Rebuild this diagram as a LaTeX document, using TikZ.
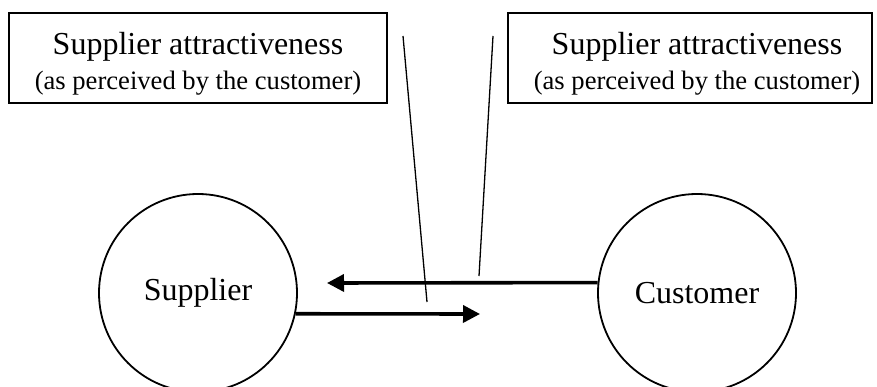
\documentclass[tikz,border=0pt]{standalone}
\usepackage{fontspec}
\setmainfont{Liberation Serif}
\usetikzlibrary{arrows.meta}
\begin{document}
\begin{tikzpicture}[x=1pt,y=-1pt,
  party/.style={circle,draw,line width=1.8pt,minimum size=198pt,inner sep=0pt,
    font=\fontsize{32}{38}\selectfont},
  box/.style={draw,line width=1.6pt,inner sep=0pt},
  titletext/.style={anchor=base,inner sep=0pt,font=\fontsize{32}{38}\selectfont},
  subtext/.style={anchor=base,inner sep=0pt,font=\fontsize{26.6}{32}\selectfont},
  flow/.style={line width=3.6pt,-{Triangle[length=17pt,width=17pt]}},
  thin/.style={line width=1.3pt}]
\useasboundingbox (0,0) rectangle (877,387);
% boxes
\node[box,minimum width=378pt,minimum height=90pt] (boxL) at (198,58) {};
\node[box,minimum width=364pt,minimum height=90pt] (boxR) at (690,58) {};
\node[titletext] (tL) at (198,55) {Supplier attractiveness};
\node[subtext] (sL) at (198,90) {(as perceived by the customer)};
\node[titletext] (tR) at (697,55) {Supplier attractiveness};
\node[subtext] (sR) at (697,90) {(as perceived by the customer)};
% circles
\node[party] (sup) at (198,293) {Supplier};
\node[party] (cus) at (697,293) {Customer};
% arrow ends
\coordinate (upTip) at (327,283);
\coordinate (loTip) at (480,314);
\draw[flow] (cus.174) -- (upTip);
\draw[flow] (sup.-12) -- (loTip);
% thin lines
\coordinate (l1a) at (403,36);
\coordinate (l1b) at (427,302);
\coordinate (l2a) at (493,36);
\coordinate (l2b) at (479,276);
\draw[thin] (l1a) -- (l1b);
\draw[thin] (l2a) -- (l2b);
\end{tikzpicture}
\end{document}
